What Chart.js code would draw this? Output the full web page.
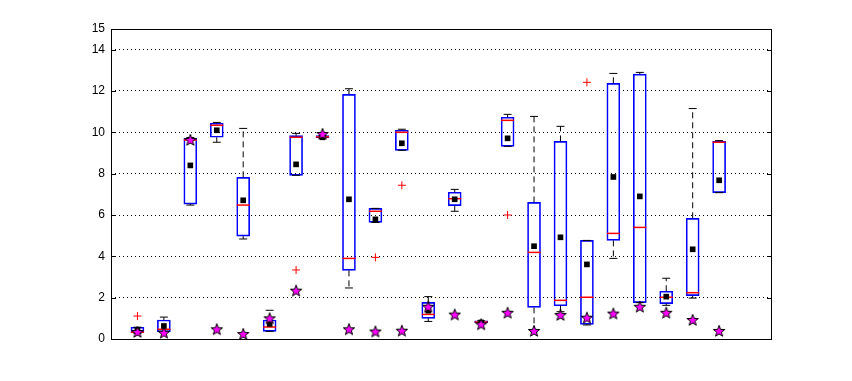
<!DOCTYPE html>
<html>
<head>
<meta charset="utf-8">
<script src="https://cdn.jsdelivr.net/npm/chart.js@4/dist/chart.umd.min.js"></script>
<style>
    body { margin: 0; background: #fff; }
    canvas { display: block; }
</style>
</head>
<body>
<canvas id="boxChart" width="852" height="381"></canvas>
<script>
// group positions on the x axis
const groups = [1, 2, 3, 4, 5, 6, 7, 8, 9, 10, 11, 12, 13, 14, 15, 16, 17, 18, 19, 20, 21, 22, 23];

// box edges (25th / 75th percentile)
const q1 = [0.30, 0.35, 6.53, 9.76, 4.98, 0.37, 7.92, 9.74, 3.32, 5.64, 9.13, 1.00, 6.45, 0.79, 9.32, 1.53, 1.61, 0.71, 4.77, 1.76, 1.71, 2.10, 7.08];
const q3 = [0.57, 0.92, 9.71, 10.44, 7.82, 0.92, 9.84, 9.84, 11.84, 6.32, 10.10, 1.77, 7.10, 0.88, 10.73, 6.61, 9.56, 4.77, 12.37, 12.82, 2.31, 5.84, 9.56];
const medians = [0.33, 0.47, 9.63, 10.34, 6.48, 0.58, 9.76, 9.78, 3.90, 6.18, 10.00, 1.19, 6.79, 0.82, 10.58, 4.19, 1.87, 2.02, 5.11, 5.40, 2.02, 2.24, 9.52];

// whisker ends
const whiskerLow = [0.27, 0.33, 6.48, 9.52, 4.84, 0.37, 7.92, 9.74, 2.47, 5.64, 9.13, 0.85, 6.18, 0.79, 9.32, 0.35, 1.32, 0.68, 3.90, 1.76, 1.63, 1.98, 7.08];
const whiskerHigh = [0.57, 1.06, 9.75, 10.48, 10.19, 1.39, 9.95, 9.84, 12.11, 6.32, 10.15, 2.05, 7.24, 0.88, 10.87, 10.77, 10.29, 4.77, 12.85, 12.90, 2.94, 11.15, 9.60];

// means (black squares) and reference values (stars)
const means = [0.42, 0.63, 8.40, 10.10, 6.71, 0.73, 8.45, 9.76, 6.76, 5.79, 9.47, 1.37, 6.76, 0.80, 9.71, 4.49, 4.92, 3.61, 7.84, 6.90, 2.05, 4.34, 7.68];
const stars = [0.34, 0.30, 9.63, 0.47, 0.24, 1.00, 2.34, 9.92, 0.47, 0.36, 0.40, 1.56, 1.18, 0.71, 1.27, 0.39, 1.16, 1.03, 1.23, 1.56, 1.27, 0.92, 0.39];

// outliers
const outlierX = [1, 7, 10, 11, 15, 18];
const outlierY = [1.11, 3.34, 3.95, 7.44, 6.00, 12.42];

// y tick labels
const yTicks = [0, 2, 4, 6, 8, 10, 12, 14, 15];

// magenta star marker
function makeStar() {
    const c = document.createElement("canvas");
    c.width = 14;
    c.height = 14;
    const g = c.getContext("2d");
    g.beginPath();
    for (let i = 0; i < 10; i++) {
        const r = i % 2 === 0 ? 6 : 2.5;
        const a = -Math.PI / 2 + i * Math.PI / 5;
        const px = 7 + r * Math.cos(a);
        const py = 7.4 + r * Math.sin(a);
        if (i === 0) g.moveTo(px, py); else g.lineTo(px, py);
    }
    g.closePath();
    g.fillStyle = "#ff00ff";
    g.fill();
    g.strokeStyle = "#000";
    g.lineWidth = 1;
    g.stroke();
    return c;
}

// whisker segments, separated by gaps
const whiskerPts = [];
groups.forEach((x, i) => {
    whiskerPts.push({ x: x, y: q3[i] }, { x: x, y: whiskerHigh[i] }, { x: x, y: null });
    whiskerPts.push({ x: x, y: q1[i] }, { x: x, y: whiskerLow[i] }, { x: x, y: null });
});

const capPts = [];
groups.forEach((x, i) => {
    capPts.push({ x: x, y: whiskerHigh[i] }, { x: x, y: whiskerLow[i] });
});

// frame and inward tick marks, MATLAB style
const framePlugin = {
    id: "frame",
    beforeDatasetsDraw(chart) {
        const { ctx, chartArea: a } = chart;
        const y = chart.scales.y;
        ctx.save();
        ctx.strokeStyle = "#000";
        ctx.lineWidth = 1;
        ctx.strokeRect(a.left + 0.5, a.top + 0.5, a.right - a.left - 1, a.bottom - a.top);
        ctx.beginPath();
        yTicks.forEach(v => {
            const py = Math.round(y.getPixelForValue(v)) + 0.5;
            ctx.moveTo(a.left, py);
            ctx.lineTo(a.left + 5, py);
            ctx.moveTo(a.right, py);
            ctx.lineTo(a.right - 5, py);
        });
        ctx.stroke();
        ctx.restore();
    }
};

const ctx = document.getElementById("boxChart").getContext("2d");

new Chart(ctx, {
    type: "bar",
    data: {
        datasets: [
            {
                type: "line",
                label: "stars",
                data: groups.map((x, i) => ({ x: x, y: stars[i] })),
                showLine: false,
                pointStyle: makeStar(),
                order: 0,
            },
            {
                type: "line",
                label: "means",
                data: groups.map((x, i) => ({ x: x, y: means[i] })),
                showLine: false,
                pointStyle: "rect",
                pointRadius: 4,
                pointBackgroundColor: "#000",
                pointBorderColor: "#000",
                pointBorderWidth: 0,
                order: 1,
            },
            {
                type: "line",
                label: "outliers",
                data: outlierX.map((x, i) => ({ x: x, y: outlierY[i] })),
                showLine: false,
                pointStyle: "cross",
                pointRadius: 4,
                pointBorderColor: "#ff0000",
                pointBorderWidth: 1,
                order: 2,
            },
            {
                type: "line",
                label: "medians",
                data: groups.map((x, i) => ({ x: x, y: medians[i] })),
                showLine: false,
                pointStyle: "line",
                pointRadius: 6.5,
                pointBorderColor: "#ff0000",
                pointBorderWidth: 1.5,
                order: 3,
            },
            {
                type: "line",
                label: "caps",
                data: capPts,
                showLine: false,
                pointStyle: "line",
                pointRadius: 4,
                pointBorderColor: "#000",
                pointBorderWidth: 1,
                order: 4,
            },
            {
                type: "line",
                label: "whiskers",
                data: whiskerPts,
                spanGaps: false,
                borderColor: "#000",
                borderWidth: 1,
                borderDash: [6, 4],
                pointRadius: 0,
                order: 5,
            },
            {
                label: "boxes",
                data: groups.map((x, i) => ({ x: x, y: [q1[i], q3[i]] })),
                backgroundColor: "rgba(0,0,0,0)",
                borderColor: "#0000ff",
                borderWidth: 1,
                borderSkipped: false,
                barThickness: 13,
                order: 6,
            },
        ],
    },
    plugins: [framePlugin],
    options: {
        responsive: false,
        animation: false,
        layout: { padding: { left: 0, top: 29, right: 80, bottom: 42 } },
        plugins: {
            legend: { display: false },
            tooltip: { enabled: false },
        },
        scales: {
            x: {
                type: "linear",
                min: 0,
                max: 25,
                offset: false,
                display: false,
            },
            y: {
                min: 0,
                max: 15,
                afterBuildTicks: (scale) => {
                    scale.ticks = yTicks.map(v => ({ value: v }));
                },
                afterFit: (scale) => {
                    scale.width = 111;
                },
                grid: {
                    drawTicks: false,
                    color: (c) => (c.tick && c.tick.value > 0 && c.tick.value < 15 ? "#000" : "rgba(0,0,0,0)"),
                    lineWidth: 1,
                },
                border: { display: false, dash: [1, 3] },
                ticks: {
                    padding: 6,
                    color: "#000",
                    font: { family: "Liberation Sans", size: 12 },
                },
            },
        },
    },
});
</script>
</body>
</html>
